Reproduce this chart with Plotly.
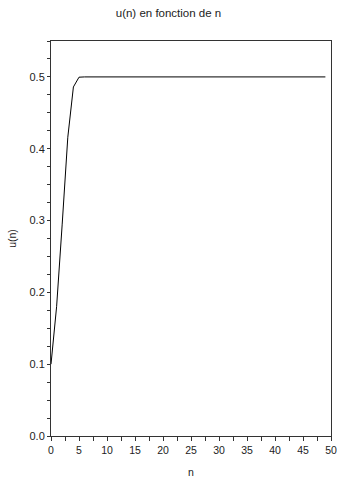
import plotly.graph_objects as go

n_values = list(range(50))
u_values = [0.1, 0.18, 0.295, 0.416, 0.486, 0.4996,
            0.5, 0.5, 0.5, 0.5, 0.5, 0.5, 0.5, 0.5, 0.5, 0.5, 0.5, 0.5, 0.5, 0.5,
            0.5, 0.5, 0.5, 0.5, 0.5, 0.5, 0.5, 0.5, 0.5, 0.5, 0.5, 0.5, 0.5, 0.5,
            0.5, 0.5, 0.5, 0.5, 0.5, 0.5, 0.5, 0.5, 0.5, 0.5, 0.5, 0.5, 0.5, 0.5,
            0.5, 0.5]
x_ticks = [0, 5, 10, 15, 20, 25, 30, 35, 40, 45, 50]
y_ticks = [0.0, 0.1, 0.2, 0.3, 0.4, 0.5]
y_tick_labels = ["0.0", "0.1", "0.2", "0.3", "0.4", "0.5"]

fam = "Liberation Sans, Arial, sans-serif"
font = dict(family=fam, size=11, color="#222")

fig = go.Figure()
fig.add_trace(go.Scatter(x=n_values, y=u_values, mode="lines",
                         line=dict(color="black", width=1), showlegend=False,
                         hoverinfo="skip"))

fig.update_layout(
    width=337, height=481,
    margin=dict(l=51, r=6, t=41, b=45, autoexpand=False),
    paper_bgcolor="white", plot_bgcolor="white",
    font=font,
    title=dict(text="u(n) en fonction de n", x=0.5, xanchor="center",
               y=1 - 13 / 481, yanchor="middle",
               font=dict(size=11.5, color="#222", family=fam)),
)
fig.update_xaxes(
    range=[0, 50], tickvals=x_ticks, showgrid=False, zeroline=False, automargin=False,
    tickfont=dict(family=fam, size=10.5, color="#222"),
    showline=True, linecolor="#333", linewidth=1, mirror=True,
    ticks="outside", ticklen=4, tickcolor="#333", tickwidth=1,
    minor=dict(dtick=2.5, ticks="outside", ticklen=4, tickcolor="#333", showgrid=False),
    title=dict(text="n", standoff=14, font=dict(family=fam, size=10.5, color="#222")),
)
fig.update_yaxes(
    range=[0, 0.55], tickvals=y_ticks, ticktext=y_tick_labels,
    showgrid=False, zeroline=False, automargin=False,
    showline=True, linecolor="#333", linewidth=1, mirror=True,
    ticks="outside", ticklen=3, tickcolor="#333", tickwidth=1,
    minor=dict(dtick=0.025, ticks="outside", ticklen=3, tickcolor="#333", showgrid=False),
    title=dict(text="u(n)", standoff=10, font=dict(family=fam, size=10.5, color="#222")),
)

fig.write_html("out.html", config={"displayModeBar": False},
               post_script="document.body.style.margin='0px';document.body.style.overflow='hidden';")
